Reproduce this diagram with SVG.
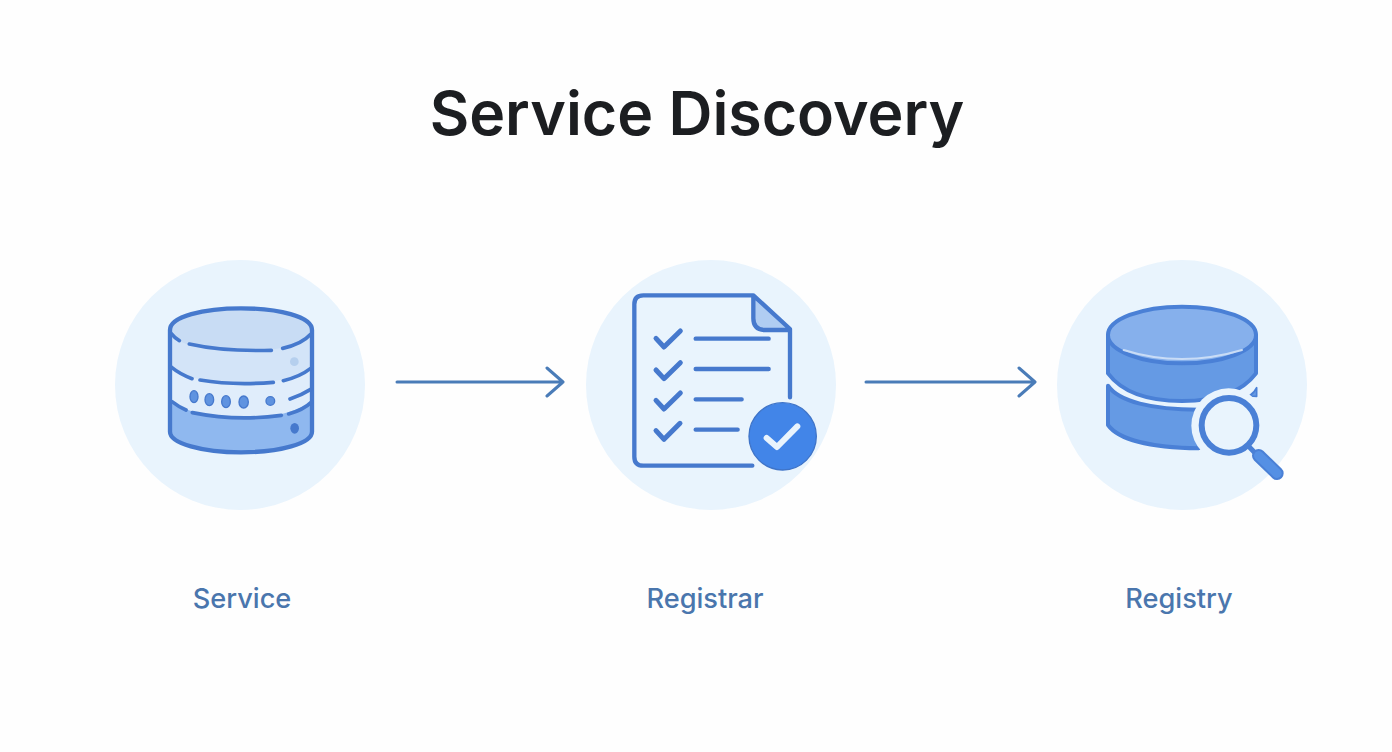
<svg xmlns="http://www.w3.org/2000/svg" width="1392" height="752" viewBox="0 0 1392 752">
<style>
.title{font-family:Inter,"Liberation Sans",sans-serif;font-size:60.8px;font-weight:600;fill:#1c1e21;text-anchor:middle}
.label{font-family:Inter,"Liberation Sans",sans-serif;font-size:27.2px;font-weight:500;fill:#4a76ad;text-anchor:middle}
.bg{fill:#e9f4fd}
.ln{fill:none;stroke:#4679cd;stroke-width:13;stroke-linecap:round;stroke-linejoin:round}
.th{stroke-width:11}
.dot{fill:#5f93e0;stroke:#4679cd;stroke-width:4}
.conn{fill:none;stroke:#4a7cb8;stroke-width:3;stroke-linecap:round;stroke-linejoin:round}
</style>
<rect width="1392" height="752" fill="#fefefe"/>
<text id="title" class="title" x="697" y="135">Service Discovery</text>
<g id="connectors">
<path class="conn" d="M397 382H563M547 368L563 382L547 396"/>
<path class="conn" d="M866 382H1034M1019 368L1035 382L1019 396"/>
</g>
<g id="node-service">
<circle class="bg" cx="240" cy="385" r="125"/>
<g transform="translate(110 255) scale(.33333)">
<path d="M180 225C180 185 280 160 393 160S606 185 606 225V530C606 565 510 592 393 592S180 565 180 530Z" fill="#e0edfb"/>
<path d="M180 225C180 185 280 160 393 160S606 185 606 225V340C570 370 480 385 390 385S230 370 180 335Z" fill="#d3e4f8"/>
<path d="M180 225C180 185 280 160 393 160S606 185 606 225C606 262 510 290 393 290S180 262 180 225Z" fill="#c8dcf4"/>
<path d="M180 440C240 475 320 490 390 490S540 480 606 440V530C606 565 510 592 393 592S180 565 180 530Z" fill="#8fb8ef"/>
<path class="ln" d="M180 225C180 185 280 160 393 160S606 185 606 225V530C606 565 510 592 393 592S180 565 180 530Z"/>
<path class="ln th" d="M184 236Q195 250 208 257M238 267Q340 290 484 286M518 280Q575 268 602 238M182 335Q210 358 246 371M270 375Q370 392 490 382M520 377Q570 365 602 340M540 432Q575 420 602 403M186 440Q205 455 228 465M247 473Q380 500 514 481M536 477Q580 465 606 440"/>
<ellipse class="dot" cx="252" cy="425" rx="12" ry="18"/>
<ellipse class="dot" cx="298" cy="434" rx="13" ry="18"/>
<ellipse class="dot" cx="348" cy="440" rx="13" ry="18"/>
<ellipse class="dot" cx="401" cy="441" rx="14" ry="18"/>
<circle class="dot" cx="481" cy="438" r="13"/>
<circle cx="553" cy="320" r="13" fill="#b5cfee"/>
<ellipse cx="554" cy="520" rx="13" ry="16" fill="#4679cd"/>
</g>
</g>
<g id="node-registrar">
<circle class="bg" cx="711" cy="385" r="125"/>
<g transform="translate(580 255) scale(.33333)">
<path d="M520 121V190Q520 225 555 225H630Z" fill="#b0cdf2"/>
<path class="ln" d="M517 632H190Q163 632 163 605V148Q163 121 190 121H520L630 222V427M520 121V190Q520 225 555 225H630"/>
<path class="ln" style="stroke-width:15" d="M228 250L252 276L301 228M228 345L252 371L301 323M228 436L252 462L301 414M228 527L252 553L300 505"/>
<path class="ln" d="M347 251H566M347 342H566M347 433H485M347 524H473"/>
<circle cx="608" cy="544" r="101" fill="#4285e8" stroke="#3f74c8" stroke-width="4"/>
<path d="M560 549L591 576L652 514" fill="none" stroke="#e9f4fd" stroke-width="18" stroke-linecap="round" stroke-linejoin="round"/>
</g>
</g>
<g id="node-registry">
<circle class="bg" cx="1182" cy="385" r="125"/>
<g transform="translate(1052 255) scale(.33333)">
<path d="M168 240V355Q230 438 390 438T612 355V240Z" fill="#659ae4" stroke="#4a80d6" stroke-width="12" stroke-linejoin="round"/>
<ellipse cx="390" cy="240" rx="222" ry="85" fill="#86b0ec" stroke="#4a80d6" stroke-width="12"/>
<path d="M215 285Q300 312 390 312T570 285" fill="none" stroke="#c9dcf6" stroke-width="6" stroke-linecap="round"/>
<path d="M168 392C200 440 300 464 440 464V580C300 578 200 555 168 510Z" fill="#659ae4" stroke="#4a80d6" stroke-width="12" stroke-linejoin="round"/>
<path d="M592 423Q608 412 614 398V424Z" fill="#659ae4" stroke="#4a80d6" stroke-width="5" stroke-linejoin="round"/>
<circle cx="530" cy="512" r="112" fill="#e9f4fd"/>
<path d="M592 576L615 600" stroke="#4a80d6" stroke-width="15" stroke-linecap="round"/>
<path d="M620 602L675 655" stroke="#4a80d6" stroke-width="40" stroke-linecap="round"/>
<path d="M620 602L675 655" stroke="#5590e4" stroke-width="28" stroke-linecap="round"/>
<circle cx="531" cy="511" r="82" fill="#e9f4fd" stroke="#4a80d6" stroke-width="18"/>
</g>
</g>
<text class="label" x="242" y="608">Service</text>
<text class="label" x="705" y="608">Registrar</text>
<text class="label" x="1179" y="608">Registry</text>
</svg>
